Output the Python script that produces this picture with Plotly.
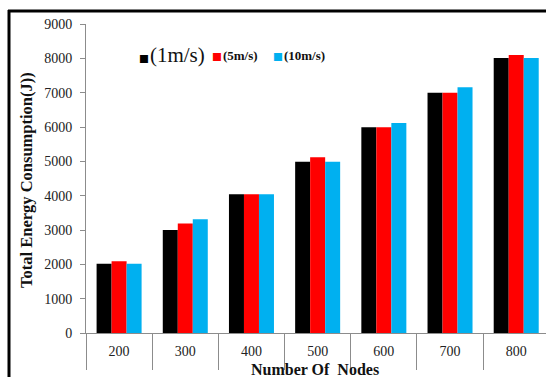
import plotly.graph_objects as go

# Number of nodes in the network (x categories)
nodes = ["200", "300", "400", "500", "600", "700", "800"]

# Total energy consumption (J) for each node speed
energy_1ms = [2020, 3000, 4040, 4990, 5990, 7000, 8010]
energy_5ms = [2090, 3190, 4040, 5120, 5990, 7000, 8100]
energy_10ms = [2020, 3310, 4040, 4990, 6120, 7160, 8010]

series_names = ["(1m/s)", "(5m/s)", "(10m/s)"]
series_colors = ["#000000", "#FF0000", "#00B0F0"]

y_ticks = [0, 1000, 2000, 3000, 4000, 5000, 6000, 7000, 8000, 9000]

SERIF = "Liberation Serif, Times New Roman, serif"
AXIS_GREY = "#8c8c8c"

W, H = 546, 377
L, R, T, B = 86, 0, 24, 44
PW, PH = W - L - R, H - T - B


def px_x(px):
    return (px - L) / PW


def px_y(py):
    return (H - B - py) / PH


fig = go.Figure()
for name, vals, col in zip(series_names, [energy_1ms, energy_5ms, energy_10ms], series_colors):
    fig.add_trace(go.Bar(
        x=nodes, y=vals, name=name,
        marker=dict(color=col, line=dict(width=0)),
        showlegend=False,
    ))

fig.update_layout(
    width=W, height=H,
    margin=dict(l=L, r=R, t=T, b=B),
    paper_bgcolor="white", plot_bgcolor="white",
    barmode="group", bargap=0.32, bargroupgap=0,
    font=dict(family=SERIF, color="#222222"),
)

fig.update_yaxes(
    range=[0, 9000], tickvals=y_ticks,
    showgrid=False, zeroline=False,
    showline=True, linecolor=AXIS_GREY, linewidth=1,
    ticks="outside", ticklen=5, tickcolor=AXIS_GREY,
    ticklabelstandoff=5,
    tickfont=dict(family=SERIF, size=14, color="#222222"),
)

fig.update_xaxes(
    type="category", range=[-0.5, 6.45],
    showgrid=False, zeroline=False,
    showline=True, linecolor=AXIS_GREY, linewidth=1,
    ticks="outside", tickson="boundaries", ticklen=36, tickcolor=AXIS_GREY,
    ticklabelstandoff=5,
    tickfont=dict(family=SERIF, size=14, color="#222222"),
)

# Axis titles
fig.add_annotation(
    text="<b>Total Energy Consumption(J))</b>",
    xref="paper", yref="paper", x=px_x(26), y=px_y(180),
    xanchor="center", yanchor="middle",
    textangle=-90, showarrow=False,
    font=dict(family=SERIF, size=16.5, color="#111111"),
)
fig.add_annotation(
    text="<b>Number Of&nbsp; Nodes</b>",
    xref="paper", yref="paper", x=px_x(315), y=px_y(369.5),
    xanchor="center", yanchor="middle",
    showarrow=False,
    font=dict(family=SERIF, size=16, color="#111111"),
)

# Legend entries: coloured square followed by the speed label
legend_items = [
    (series_names[0], series_colors[0], 137, 21, False),
    (series_names[1], series_colors[1], 210, 13, True),
    (series_names[2], series_colors[2], 271, 13, True),
]
for label, col, x0, size, bold in legend_items:
    txt = f"<b>{label}</b>" if bold else label
    fig.add_annotation(
        text=(f"<span style='color:{col};font-size:10.5px;font-family:DejaVu Sans'>■</span>"
              f"<span style='font-size:4px'> </span>{txt}"),
        xref="paper", yref="paper", x=px_x(x0), y=px_y(55),
        xanchor="left", yanchor="middle", showarrow=False,
        font=dict(family=SERIF, size=size, color="#111111"),
    )

# Frame lines along the top and left edges of the figure
fig.add_shape(type="line", xref="paper", yref="paper",
              x0=px_x(8), x1=px_x(W + 5), y0=px_y(11), y1=px_y(11),
              line=dict(color="black", width=3))
fig.add_shape(type="line", xref="paper", yref="paper",
              x0=px_x(9), x1=px_x(9), y0=px_y(10), y1=px_y(H + 5),
              line=dict(color="black", width=3))

fig.write_html("out.html")
